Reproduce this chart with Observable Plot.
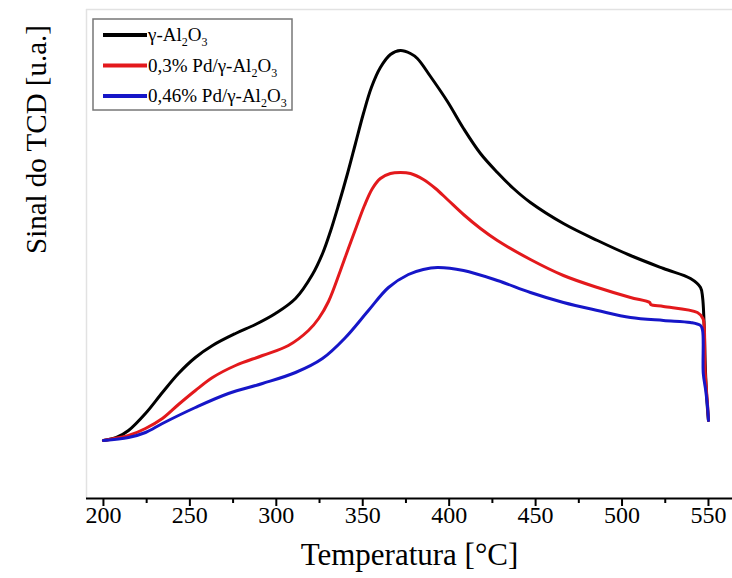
<!DOCTYPE html>
<html><head><meta charset="utf-8">
<script src="https://cdn.jsdelivr.net/npm/d3@7"></script>
<script src="https://cdn.jsdelivr.net/npm/@observablehq/plot@0.6"></script>
<style>body{margin:0;background:#fff} #chart{width:732px;height:578px}</style>
</head><body><div id="chart"></div>
<script>
const seriesNames = ["γ-Al_2O_3", "0,3% Pd/γ-Al_2O_3", "0,46% Pd/γ-Al_2O_3"];
const seriesColors = ["#000000", "#e3191c", "#1616c8"];

const tempAl2O3 = [200, 207.5, 214.5, 224.3, 234.1, 243.4, 253.2, 263.1, 276.4, 287.9, 299.5, 311.1, 320.9, 327.0, 331.3, 335.9, 341.2, 345.8, 350.4, 355.0, 360.2, 366.0, 371.8, 377.6, 381.6, 389.2, 399.0, 408.3, 418.1, 427.9, 437.2, 447.0, 466.1, 485.8, 504.9, 524.0, 539.6, 545.4, 546.6, 547.4, 548.2, 549.4, 550];
const signalAl2O3 = [0.58, 0.61, 0.68, 0.85, 1.06, 1.25, 1.41, 1.53, 1.65, 1.74, 1.85, 2.00, 2.24, 2.46, 2.67, 2.93, 3.25, 3.55, 3.85, 4.11, 4.31, 4.44, 4.48, 4.45, 4.40, 4.22, 3.97, 3.70, 3.45, 3.26, 3.10, 2.96, 2.75, 2.58, 2.43, 2.30, 2.20, 2.11, 2.01, 1.78, 1.30, 0.90, 0.78];

const tempPd03 = [200, 214.5, 224.3, 234.1, 243.4, 253.2, 263.1, 276.4, 292.0, 307.0, 318.6, 324.5, 330.2, 337.1, 341.7, 346.4, 351.0, 355.6, 360.2, 366.0, 371.8, 377.6, 385.1, 392.1, 399.0, 408.3, 418.1, 427.9, 447.0, 466.1, 485.8, 504.9, 516.0, 516.6, 524.0, 543.6, 546.8, 547.6, 548.0, 549.5, 550];
const signalPd03 = [0.58, 0.63, 0.70, 0.80, 0.94, 1.08, 1.21, 1.33, 1.43, 1.53, 1.68, 1.80, 1.97, 2.28, 2.50, 2.72, 2.93, 3.10, 3.20, 3.25, 3.26, 3.25, 3.19, 3.10, 2.99, 2.84, 2.70, 2.58, 2.39, 2.23, 2.11, 2.01, 1.96, 1.94, 1.92, 1.86, 1.80, 1.70, 1.30, 0.93, 0.78];

const tempPd046 = [200, 214.5, 224.3, 234.1, 253.2, 272.3, 292.0, 311.1, 326.7, 340.0, 353.3, 364.9, 376.4, 385.0, 393.2, 408.3, 427.9, 447.0, 466.1, 485.8, 504.9, 524.0, 539.6, 545.4, 546.6, 547.0, 548.4, 549.5, 550];
const signalPd046 = [0.58, 0.61, 0.66, 0.75, 0.91, 1.05, 1.15, 1.26, 1.40, 1.61, 1.88, 2.11, 2.24, 2.29, 2.31, 2.28, 2.18, 2.06, 1.96, 1.88, 1.81, 1.78, 1.76, 1.73, 1.68, 1.25, 1.08, 0.91, 0.78];

const majorTicks = [200, 250, 300, 350, 400, 450, 500, 550];
const minorTicks = [225, 275, 325, 375, 425, 475, 525];
const xLabel = "Temperatura [°C]";
const yLabel = "Sinal do TCD [u.a.]";

const seriesData = [[tempAl2O3, signalAl2O3], [tempPd03, signalPd03], [tempPd046, signalPd046]];
const rows = [];
seriesData.forEach(([ts, vs], i) => ts.forEach((t, j) => rows.push({series: seriesNames[i], t, v: vs[j]})));

const xDomain = [190.2, 563.9];
const yDomain = [0, 4.89];
const font = "'Liberation Serif', 'Times New Roman', serif";

const svg = Plot.plot({
  width: 732, height: 578,
  marginLeft: 86, marginRight: 0, marginTop: 9, marginBottom: 80,
  x: {domain: xDomain},
  y: {domain: yDomain, axis: null},
  color: {domain: seriesNames, range: seriesColors},
  style: {fontFamily: font, background: "#fff", color: "#000"},
  marks: [
    Plot.ruleY([yDomain[1]], {stroke: "#e2e2e2", strokeWidth: 1.5}),
    Plot.ruleX([xDomain[0]], {stroke: "#e2e2e2", strokeWidth: 1.5}),
    Plot.axisX(minorTicks, {tickSize: 5, strokeWidth: 2, tickFormat: () => "", label: null}),
    Plot.axisX(majorTicks, {tickSize: 8, strokeWidth: 2, tickFormat: () => "", label: null}),
    Plot.text(majorTicks, {x: d => d, frameAnchor: "bottom", dy: 24, fontSize: 24, fill: "#000"}),
    Plot.ruleY([0], {stroke: "#000", strokeWidth: 2}),
    Plot.line(rows, {x: "t", y: "v", z: "series", stroke: "series", strokeWidth: 3, curve: "catmull-rom"}),
    Plot.text([xLabel], {frameAnchor: "bottom", dy: 66, fontSize: 31, fill: "#000"}),
    Plot.text([yLabel], {frameAnchor: "left", dx: -50, rotate: -90, fontSize: 29, fill: "#000"})
  ]
});

const s = d3.select(svg);
// drop the empty labels of the tick-only axes
s.selectAll("text").filter(function () { return this.textContent === ""; }).remove();

// Legend (inside plot, top-left)
const lg = s.append("g").attr("font-family", font).attr("text-anchor", "start");
lg.append("rect").attr("x", 93).attr("y", 19).attr("width", 199).attr("height", 91)
  .attr("fill", "#fff").attr("stroke", "#777").attr("stroke-width", 1.5);
seriesNames.forEach((name, i) => {
  const y = 35 + i * 30.5;
  lg.append("line").attr("x1", 103).attr("x2", 147).attr("y1", y).attr("y2", y)
    .attr("stroke", seriesColors[i]).attr("stroke-width", 4);
  const t = lg.append("text").attr("x", 148).attr("y", y + 6).attr("font-size", 19)
    .attr("fill", "#000").attr("text-anchor", "start");
  const parts = name.split(/_(\d)/);
  let shift = 0;
  parts.forEach((p, k) => {
    if (!p) return;
    const sub = k % 2 === 1;
    const target = sub ? 5 : 0;
    const ts = t.append("tspan").text(p);
    if (target !== shift) ts.attr("dy", target - shift);
    if (sub) ts.attr("font-size", 12);
    shift = target;
  });
});

document.getElementById("chart").appendChild(svg);
</script>
</body></html>
